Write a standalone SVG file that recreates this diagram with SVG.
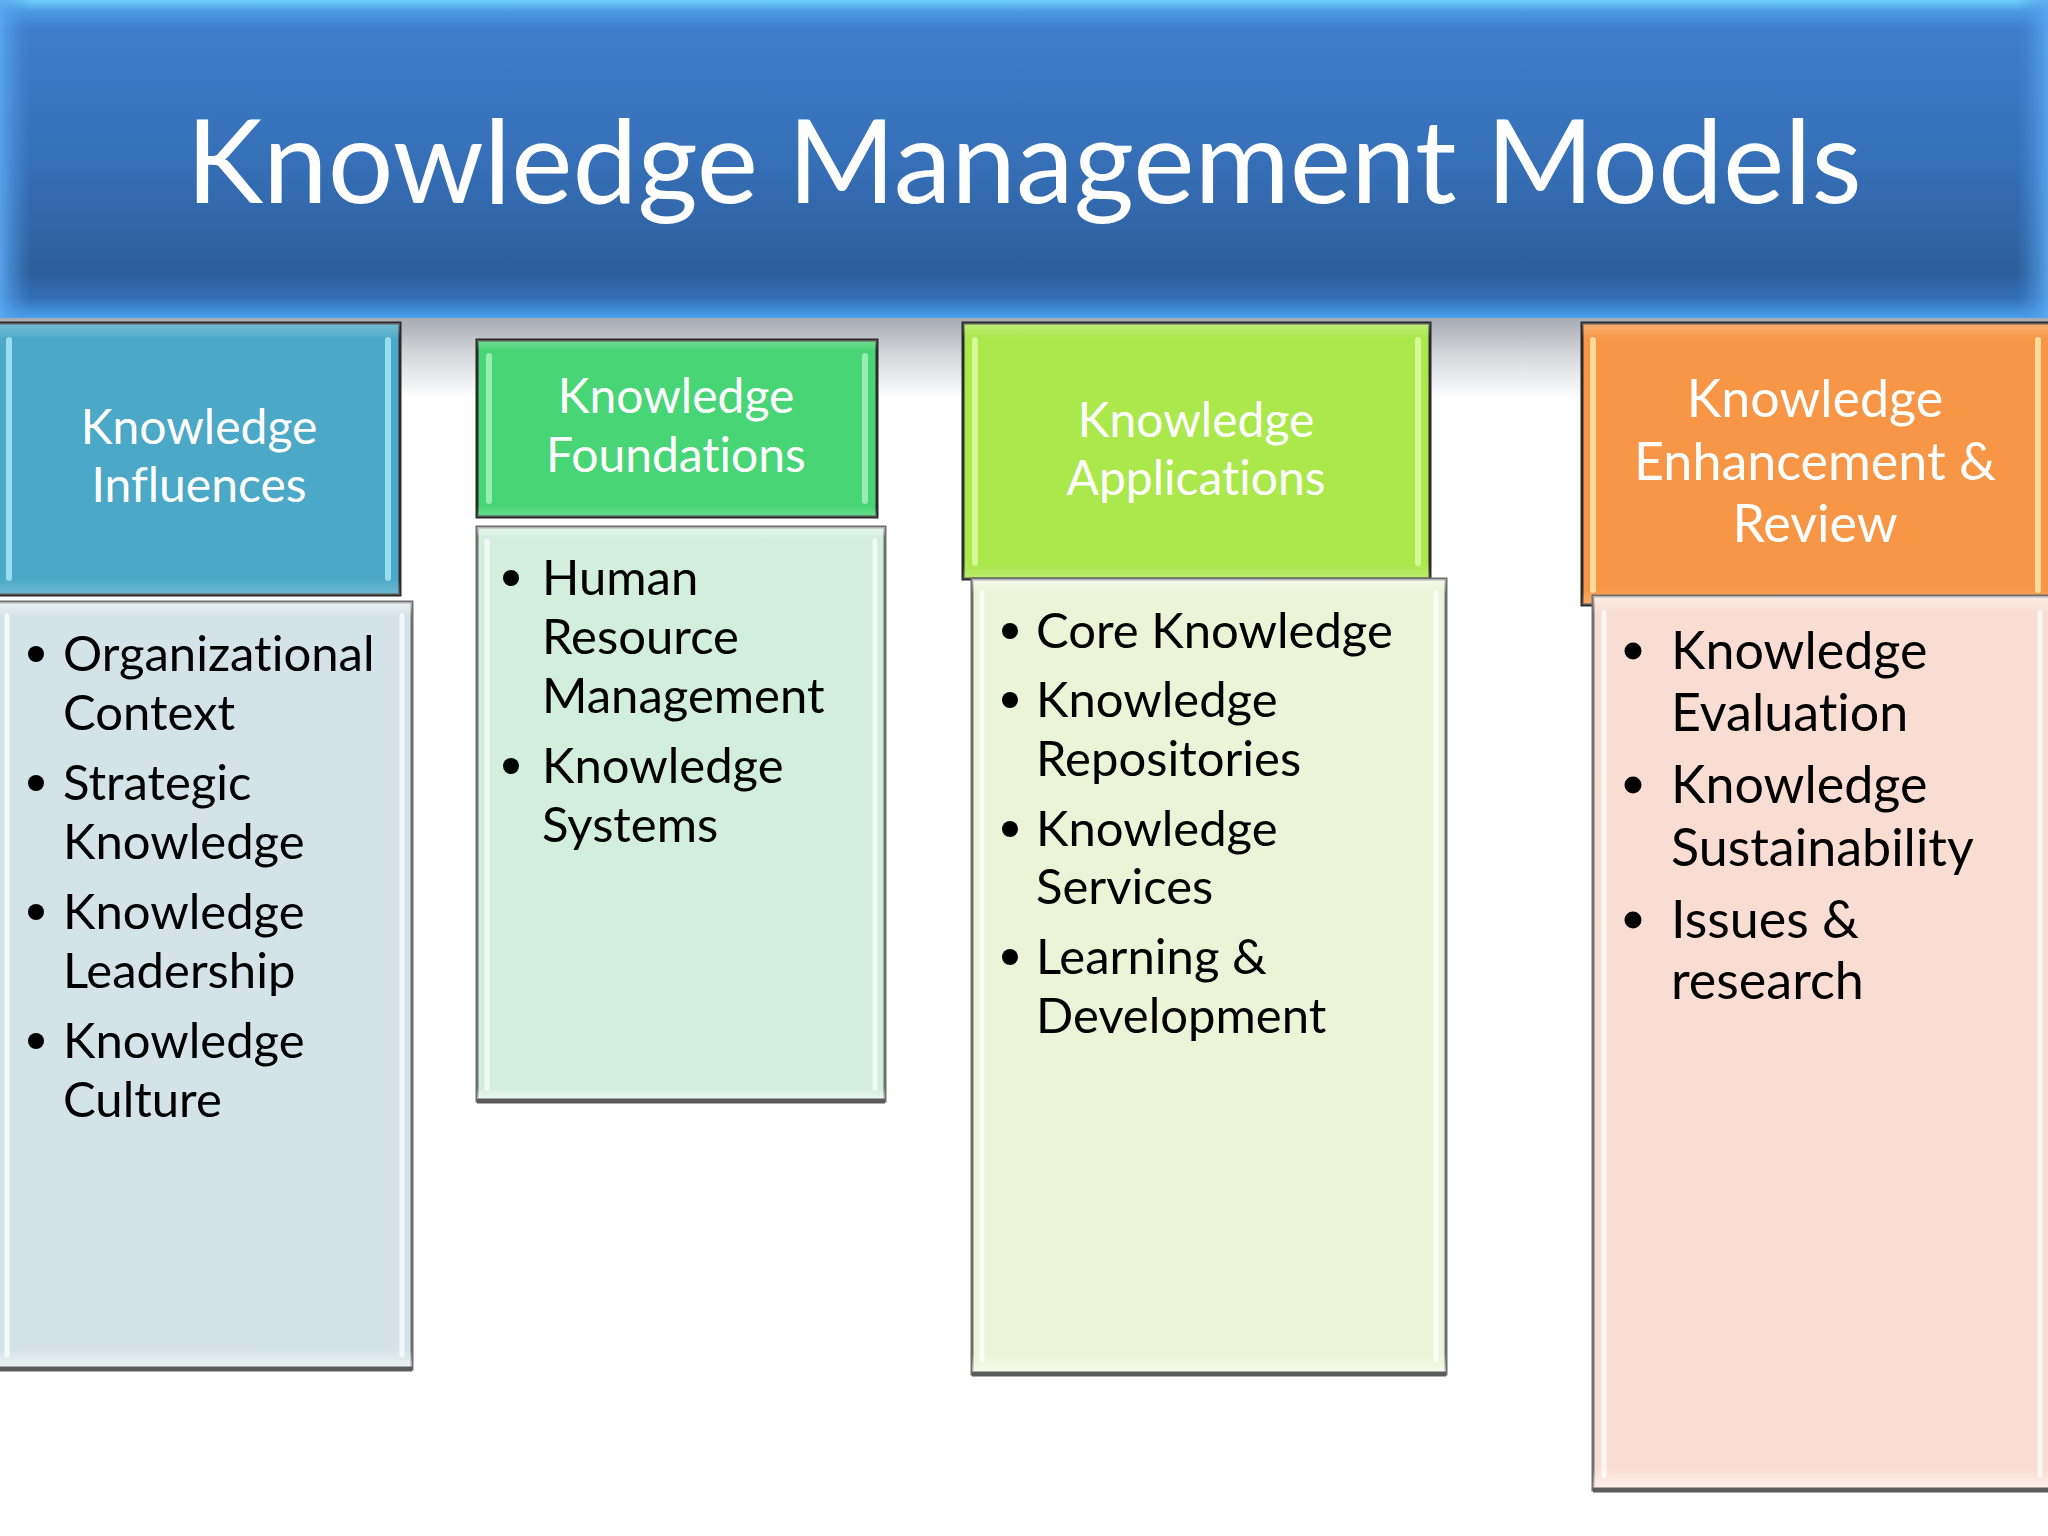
<svg xmlns="http://www.w3.org/2000/svg" width="2048" height="1536" viewBox="0 0 2048 1536">
<defs>
<linearGradient id="banner" x1="0" y1="0" x2="0" y2="1">
<stop offset="0" stop-color="#6fd0fb"/>
<stop offset="0.035" stop-color="#4c9ce6"/>
<stop offset="0.09" stop-color="#3d7dca"/>
<stop offset="0.5" stop-color="#3670b8"/>
<stop offset="0.86" stop-color="#2d5e9c"/>
<stop offset="0.94" stop-color="#3270b6"/>
<stop offset="1" stop-color="#4aa2f0"/>
</linearGradient>
<linearGradient id="bannerSide" x1="0" y1="0" x2="1" y2="0">
<stop offset="0" stop-color="#5aa8f0" stop-opacity="0.9"/>
<stop offset="0.015" stop-color="#4a90dc" stop-opacity="0"/>
<stop offset="0.985" stop-color="#4a90dc" stop-opacity="0"/>
<stop offset="1" stop-color="#5aa8f0" stop-opacity="0.9"/>
</linearGradient>
<linearGradient id="shadow" x1="0" y1="0" x2="0" y2="1">
<stop offset="0" stop-color="#a6aab2"/>
<stop offset="0.45" stop-color="#d4d6da"/>
<stop offset="1" stop-color="#ffffff"/>
</linearGradient>
<linearGradient id="hdrGloss" x1="0" y1="0" x2="0" y2="1">
<stop offset="0" stop-color="#ffffff" stop-opacity="0.25"/>
<stop offset="0.06" stop-color="#ffffff" stop-opacity="0"/>
<stop offset="0.94" stop-color="#ffffff" stop-opacity="0"/>
<stop offset="1" stop-color="#ffffff" stop-opacity="0.2"/>
</linearGradient>
<linearGradient id="bodyGloss" x1="0" y1="0" x2="0" y2="1">
<stop offset="0" stop-color="#ffffff" stop-opacity="0.5"/>
<stop offset="0.02" stop-color="#ffffff" stop-opacity="0"/>
<stop offset="0.975" stop-color="#ffffff" stop-opacity="0"/>
<stop offset="1" stop-color="#ffffff" stop-opacity="0.6"/>
</linearGradient>
</defs>
<style>
.hdr{stroke:#2a2a2a;stroke-width:3}
.body{stroke:#6e6e6e;stroke-width:3}
.base{stroke:#5c5c5c;stroke-width:5}
.hl{stroke-width:6;stroke-linecap:round;fill:none;stroke-opacity:0.85}
.bhl{stroke:#ffffff;stroke-opacity:0.75;stroke-width:5;stroke-linecap:round;fill:none}
text{font-family:"Lato","Open Sans",sans-serif;font-variant-ligatures:none;font-feature-settings:"liga" 0}
.title{font-size:116px;fill:#ffffff;text-anchor:middle}
.ht{font-size:48px;fill:#ffffff;text-anchor:middle}
.ht4{font-size:52px;fill:#ffffff;text-anchor:middle}
.bt{font-size:49px;fill:#000000}
.bt4{font-size:52px;fill:#000000}
.dot{fill:#000000}
</style>
<rect x="0" y="0" width="2048" height="1536" fill="#ffffff"/>
<rect x="0" y="318" width="2048" height="80" fill="url(#shadow)"/>
<g id="title-banner">
<rect x="0" y="0" width="2048" height="318" fill="url(#banner)"/>
<rect x="0" y="0" width="2048" height="318" fill="url(#bannerSide)"/>
<text class="title" x="1024" y="203">Knowledge Management Models</text>
</g>
<g id="node-influences">
<rect class="hdr" x="-3" y="323" width="403" height="272" fill="#4ba8c6"/>
<rect x="-3" y="323" width="403" height="272" fill="url(#hdrGloss)"/>
<line class="hl" stroke="#a6e6f4" x1="9" y1="340" x2="9" y2="578"/>
<line class="hl" stroke="#a6e6f4" x1="388" y1="340" x2="388" y2="578"/>
<text class="ht" x="199" y="444">Knowledge</text>
<text class="ht" x="199" y="502">Influences</text>
<rect class="body" x="-3" y="602" width="415" height="767" fill="#d4e3e8"/>
<rect x="-3" y="602" width="415" height="767" fill="url(#bodyGloss)"/>
<line class="bhl" x1="7" y1="616" x2="7" y2="1355"/>
<line class="bhl" x1="402" y1="616" x2="402" y2="1355"/>
<line class="base" x1="-3" y1="1369" x2="412" y2="1369"/>
<circle class="dot" cx="36" cy="654" r="8"/>
<text class="bt" x="63" y="671">Organizational</text>
<text class="bt" x="63" y="730">Context</text>
<circle class="dot" cx="36" cy="783" r="8"/>
<text class="bt" x="63" y="800">Strategic</text>
<text class="bt" x="63" y="859">Knowledge</text>
<circle class="dot" cx="36" cy="912" r="8"/>
<text class="bt" x="63" y="929">Knowledge</text>
<text class="bt" x="63" y="988">Leadership</text>
<circle class="dot" cx="36" cy="1041" r="8"/>
<text class="bt" x="63" y="1058">Knowledge</text>
<text class="bt" x="63" y="1117">Culture</text>
</g>
<g id="node-foundations">
<rect class="hdr" x="477" y="340" width="400" height="177" fill="#47d576"/>
<rect x="477" y="340" width="400" height="177" fill="url(#hdrGloss)"/>
<line class="hl" stroke="#a4f2bc" x1="489" y1="356" x2="489" y2="501"/>
<line class="hl" stroke="#a4f2bc" x1="865" y1="356" x2="865" y2="501"/>
<text class="ht" x="676" y="413">Knowledge</text>
<text class="ht" x="676" y="472">Foundations</text>
<rect class="body" x="477" y="527" width="408" height="574" fill="#d2eedc"/>
<rect x="477" y="527" width="408" height="574" fill="url(#bodyGloss)"/>
<line class="bhl" x1="487" y1="541" x2="487" y2="1088"/>
<line class="bhl" x1="875" y1="541" x2="875" y2="1088"/>
<line class="base" x1="477" y1="1101" x2="885" y2="1101"/>
<circle class="dot" cx="511" cy="578" r="8"/>
<text class="bt" x="542" y="595">Human</text>
<text class="bt" x="542" y="654">Resource</text>
<text class="bt" x="542" y="713">Management</text>
<circle class="dot" cx="511" cy="766" r="8"/>
<text class="bt" x="542" y="783">Knowledge</text>
<text class="bt" x="542" y="842">Systems</text>
</g>
<g id="node-applications">
<rect class="hdr" x="963" y="323" width="467" height="256" fill="#aae84c"/>
<rect x="963" y="323" width="467" height="256" fill="url(#hdrGloss)"/>
<line class="hl" stroke="#dcfaa6" x1="975" y1="340" x2="975" y2="563"/>
<line class="hl" stroke="#dcfaa6" x1="1418" y1="340" x2="1418" y2="563"/>
<text class="ht" x="1196" y="437">Knowledge</text>
<text class="ht" x="1196" y="495">Applications</text>
<rect class="body" x="972" y="579" width="474" height="795" fill="#ebf4d6"/>
<rect x="972" y="579" width="474" height="795" fill="url(#bodyGloss)"/>
<line class="bhl" x1="982" y1="593" x2="982" y2="1360"/>
<line class="bhl" x1="1436" y1="593" x2="1436" y2="1360"/>
<line class="base" x1="972" y1="1374" x2="1446" y2="1374"/>
<circle class="dot" cx="1010" cy="631" r="8"/>
<text class="bt" x="1036" y="648">Core Knowledge</text>
<circle class="dot" cx="1010" cy="700" r="8"/>
<text class="bt" x="1036" y="717">Knowledge</text>
<text class="bt" x="1036" y="776">Repositories</text>
<circle class="dot" cx="1010" cy="829" r="8"/>
<text class="bt" x="1036" y="846">Knowledge</text>
<text class="bt" x="1036" y="904">Services</text>
<circle class="dot" cx="1010" cy="957" r="8"/>
<text class="bt" x="1036" y="974">Learning &amp;</text>
<text class="bt" x="1036" y="1033">Development</text>
</g>
<g id="node-enhancement">
<rect class="hdr" x="1582" y="323" width="470" height="282" fill="#f79646"/>
<rect x="1582" y="323" width="470" height="282" fill="url(#hdrGloss)"/>
<line class="hl" stroke="#fde8a8" x1="1593" y1="340" x2="1593" y2="590"/>
<line class="hl" stroke="#fde8a8" x1="2038" y1="340" x2="2038" y2="590"/>
<text class="ht4" x="1815" y="417">Knowledge</text>
<text class="ht4" x="1815" y="480">Enhancement &amp;</text>
<text class="ht4" x="1815" y="542">Review</text>
<rect class="body" x="1593" y="596" width="459" height="894" fill="#f9ddd2"/>
<rect x="1593" y="596" width="459" height="894" fill="url(#bodyGloss)"/>
<line class="bhl" x1="1604" y1="612" x2="1604" y2="1476"/>
<line class="bhl" x1="2040" y1="612" x2="2040" y2="1476"/>
<line class="base" x1="1593" y1="1490" x2="2052" y2="1490"/>
<circle class="dot" cx="1633" cy="651" r="8.5"/>
<text class="bt4" x="1671" y="669">Knowledge</text>
<text class="bt4" x="1671" y="731">Evaluation</text>
<circle class="dot" cx="1633" cy="785" r="8.5"/>
<text class="bt4" x="1671" y="803">Knowledge</text>
<text class="bt4" x="1671" y="866">Sustainability</text>
<circle class="dot" cx="1633" cy="920" r="8.5"/>
<text class="bt4" x="1671" y="938">Issues &amp;</text>
<text class="bt4" x="1671" y="999">research</text>
</g>
<g id="connectors"></g>
</svg>
